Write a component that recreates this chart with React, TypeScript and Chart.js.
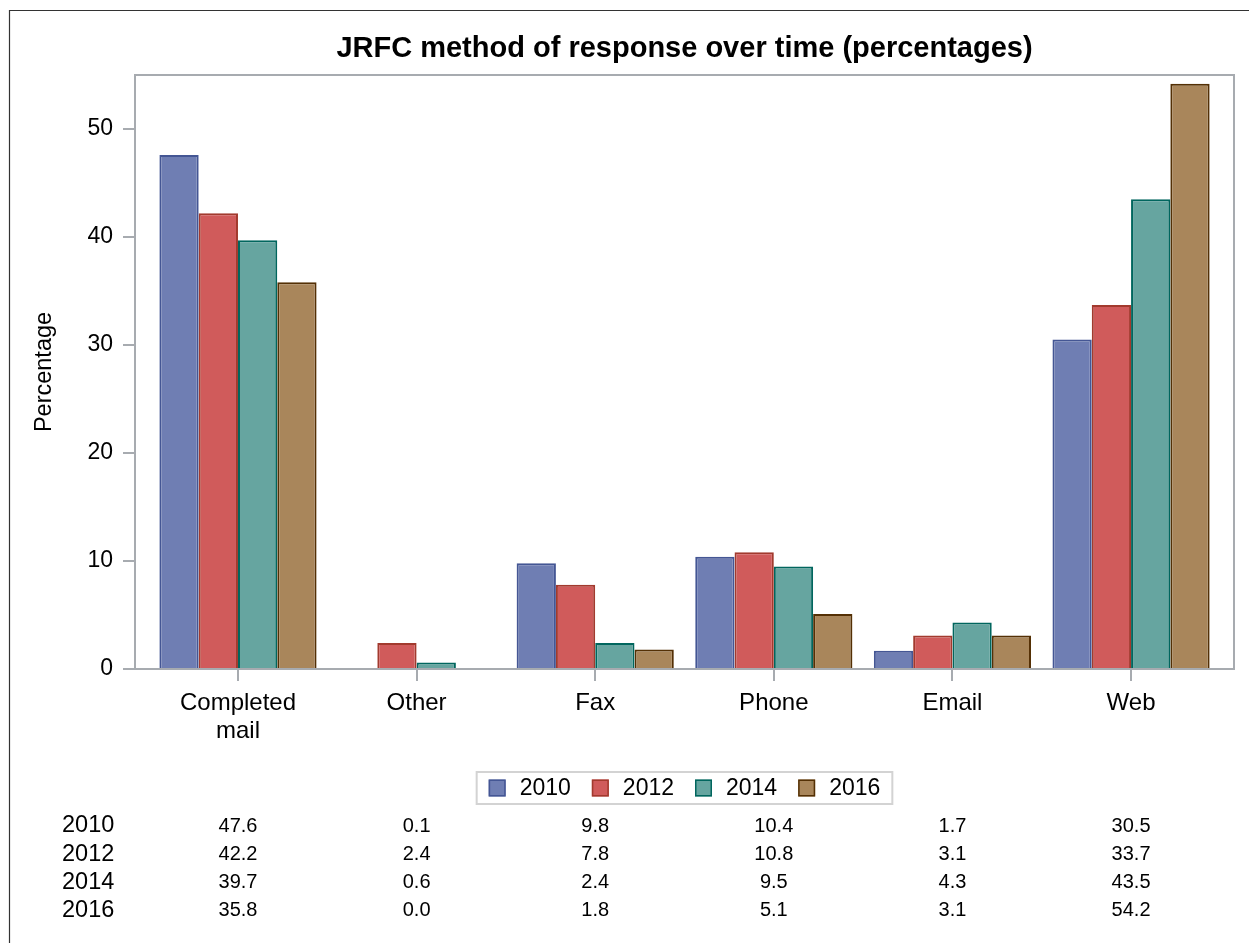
import React, { useEffect, useRef } from 'react';
import { Chart, registerables } from 'chart.js';

Chart.register(...registerables);

const TITLE = 'JRFC method of response over time (percentages)';
const Y_TITLE = 'Percentage';
const categories: (string | string[])[] = [['Completed', 'mail'], 'Other', 'Fax', 'Phone', 'Email', 'Web'];
const years = ['2010', '2012', '2014', '2016'];
const values2010 = [47.6, 0.1, 9.8, 10.4, 1.7, 30.5];
const values2012 = [42.2, 2.4, 7.8, 10.8, 3.1, 33.7];
const values2014 = [39.7, 0.6, 2.4, 9.5, 4.3, 43.5];
const values2016 = [35.8, 0.0, 1.8, 5.1, 3.1, 54.2];
const yTicks = [0, 10, 20, 30, 40, 50];
const Y_MAX = 55;

const fills = ['#6F7EB3', '#D05B5B', '#66A5A0', '#A9865B'];
const borders = ['#445694', '#A23A2E', '#01665E', '#543005'];
const AXIS = '#A7ABB0';
const FONT = '"Liberation Sans", Arial, sans-serif';

const W = 1249;
const H = 943;

const deco = {
  id: 'deco',
  beforeDraw(chart: any) {
    const ctx = chart.ctx as CanvasRenderingContext2D;
    ctx.save();
    ctx.fillStyle = '#fff';
    ctx.fillRect(0, 0, chart.width, chart.height);
    ctx.strokeStyle = '#333';
    ctx.lineWidth = 1.2;
    ctx.beginPath();
    ctx.moveTo(9.5, chart.height);
    ctx.lineTo(9.5, 10.5);
    ctx.lineTo(chart.width, 10.5);
    ctx.stroke();
    ctx.restore();
  },
  afterDraw(chart: any) {
    const ctx = chart.ctx as CanvasRenderingContext2D;
    const a = chart.chartArea;
    const xs = chart.scales.x;
    ctx.save();
    // plot frame top/right
    ctx.strokeStyle = AXIS;
    ctx.lineWidth = 2;
    ctx.beginPath();
    ctx.moveTo(a.left, a.top);
    ctx.lineTo(a.right, a.top);
    ctx.lineTo(a.right, a.bottom);
    ctx.stroke();

    const cx = (a.left + a.right) / 2;
    // title
    ctx.fillStyle = '#000';
    ctx.font = `bold 29px ${FONT}`;
    ctx.textAlign = 'center';
    ctx.textBaseline = 'alphabetic';
    ctx.fillText(TITLE, cx, 57);

    // y title
    ctx.save();
    ctx.translate(45, (a.top + a.bottom) / 2);
    ctx.rotate(-Math.PI / 2);
    ctx.font = `23.5px ${FONT}`;
    ctx.textAlign = 'center';
    ctx.textBaseline = 'middle';
    ctx.fillText(Y_TITLE, 0, 0);
    ctx.restore();

    // legend
    const ds = chart.data.datasets;
    ctx.font = `23px ${FONT}`;
    const sw = 17, gapT = 14, gapI = 21, padX = 12;
    const widths = ds.map((d: any) => ctx.measureText(d.label).width);
    let content = 0;
    widths.forEach((w: number, i: number) => {
      content += sw + gapT + w + (i < widths.length - 1 ? gapI : 0);
    });
    const boxW = content + padX * 2;
    const boxL = cx - boxW / 2;
    const boxT = 772, boxH = 32;
    ctx.strokeStyle = '#D3D3D3';
    ctx.lineWidth = 2;
    ctx.strokeRect(boxL, boxT, boxW, boxH);
    let lx = boxL + padX;
    const ly = boxT + boxH / 2;
    ds.forEach((d: any, i: number) => {
      ctx.fillStyle = d.backgroundColor;
      ctx.fillRect(lx, ly - sw / 2, sw, sw);
      ctx.strokeStyle = d.borderColor;
      ctx.lineWidth = 1.5;
      ctx.strokeRect(lx + 0.75, ly - sw / 2 + 0.75, sw - 1.5, sw - 1.5);
      ctx.fillStyle = '#000';
      ctx.textAlign = 'left';
      ctx.textBaseline = 'middle';
      ctx.fillText(d.label, lx + sw + gapT, ly + 1);
      lx += sw + gapT + widths[i] + gapI;
    });

    // data table
    const rowY0 = 825, rowStep = 28.3;
    ds.forEach((d: any, r: number) => {
      const y = rowY0 + r * rowStep;
      ctx.fillStyle = '#000';
      ctx.textBaseline = 'middle';
      ctx.font = `23.5px ${FONT}`;
      ctx.textAlign = 'left';
      ctx.fillText(d.label, 62, y + 1);
      ctx.font = `20px ${FONT}`;
      ctx.textAlign = 'center';
      (d.data as number[]).forEach((v, i) => {
        ctx.fillText(v.toFixed(1), xs.getPixelForValue(i), y + 1);
      });
    });
    ctx.restore();
  },
};

export default function App() {
  const ref = useRef<HTMLCanvasElement>(null);
  useEffect(() => {
    const series = [values2010, values2012, values2014, values2016];
    const chart = new Chart(ref.current as HTMLCanvasElement, {
      type: 'bar',
      data: {
        labels: categories as any,
        datasets: series.map((vals, i) => ({
          label: years[i],
          data: vals,
          backgroundColor: fills[i],
          borderColor: borders[i],
          borderWidth: 2,
          categoryPercentage: 0.88,
          barPercentage: 1,
        })),
      },
      options: {
        animation: false,
        responsive: true,
        maintainAspectRatio: false,
        layout: { padding: { left: 0, right: 15, top: 75, bottom: 0 } },
        plugins: { legend: { display: false }, title: { display: false }, tooltip: { enabled: false } },
        scales: {
          x: {
            type: 'category',
            offset: true,
            afterFit: (s: any) => { s.height = H - 669; },
            afterBuildTicks: (s: any) => { s._startValue = -0.5766; s._valueRange = 6.153; },
            grid: { drawOnChartArea: false, offset: false, color: AXIS, lineWidth: 2, tickLength: 12 },
            border: { color: AXIS, width: 2 },
            ticks: { font: { family: FONT, size: 24, lineHeight: 1.15 }, color: '#000', padding: 9, maxRotation: 0, autoSkip: false },
          },
          y: {
            type: 'linear',
            min: 0,
            max: Y_MAX,
            bounds: 'data',
            afterFit: (s: any) => { s.width = 135; },
            afterBuildTicks: (s: any) => { s.ticks = yTicks.map((v) => ({ value: v })); },
            grid: { drawOnChartArea: false, color: AXIS, lineWidth: 2, tickLength: 12 },
            border: { color: AXIS, width: 2 },
            ticks: { font: { family: FONT, size: 23 }, color: '#000', padding: 10 },
          },
        },
      },
      plugins: [deco],
    });
    return () => chart.destroy();
  }, []);
  return (
    <div style={{ position: 'fixed', left: 0, top: 0, width: W, height: H, background: '#fff' }}>
      <canvas ref={ref} />
    </div>
  );
}
